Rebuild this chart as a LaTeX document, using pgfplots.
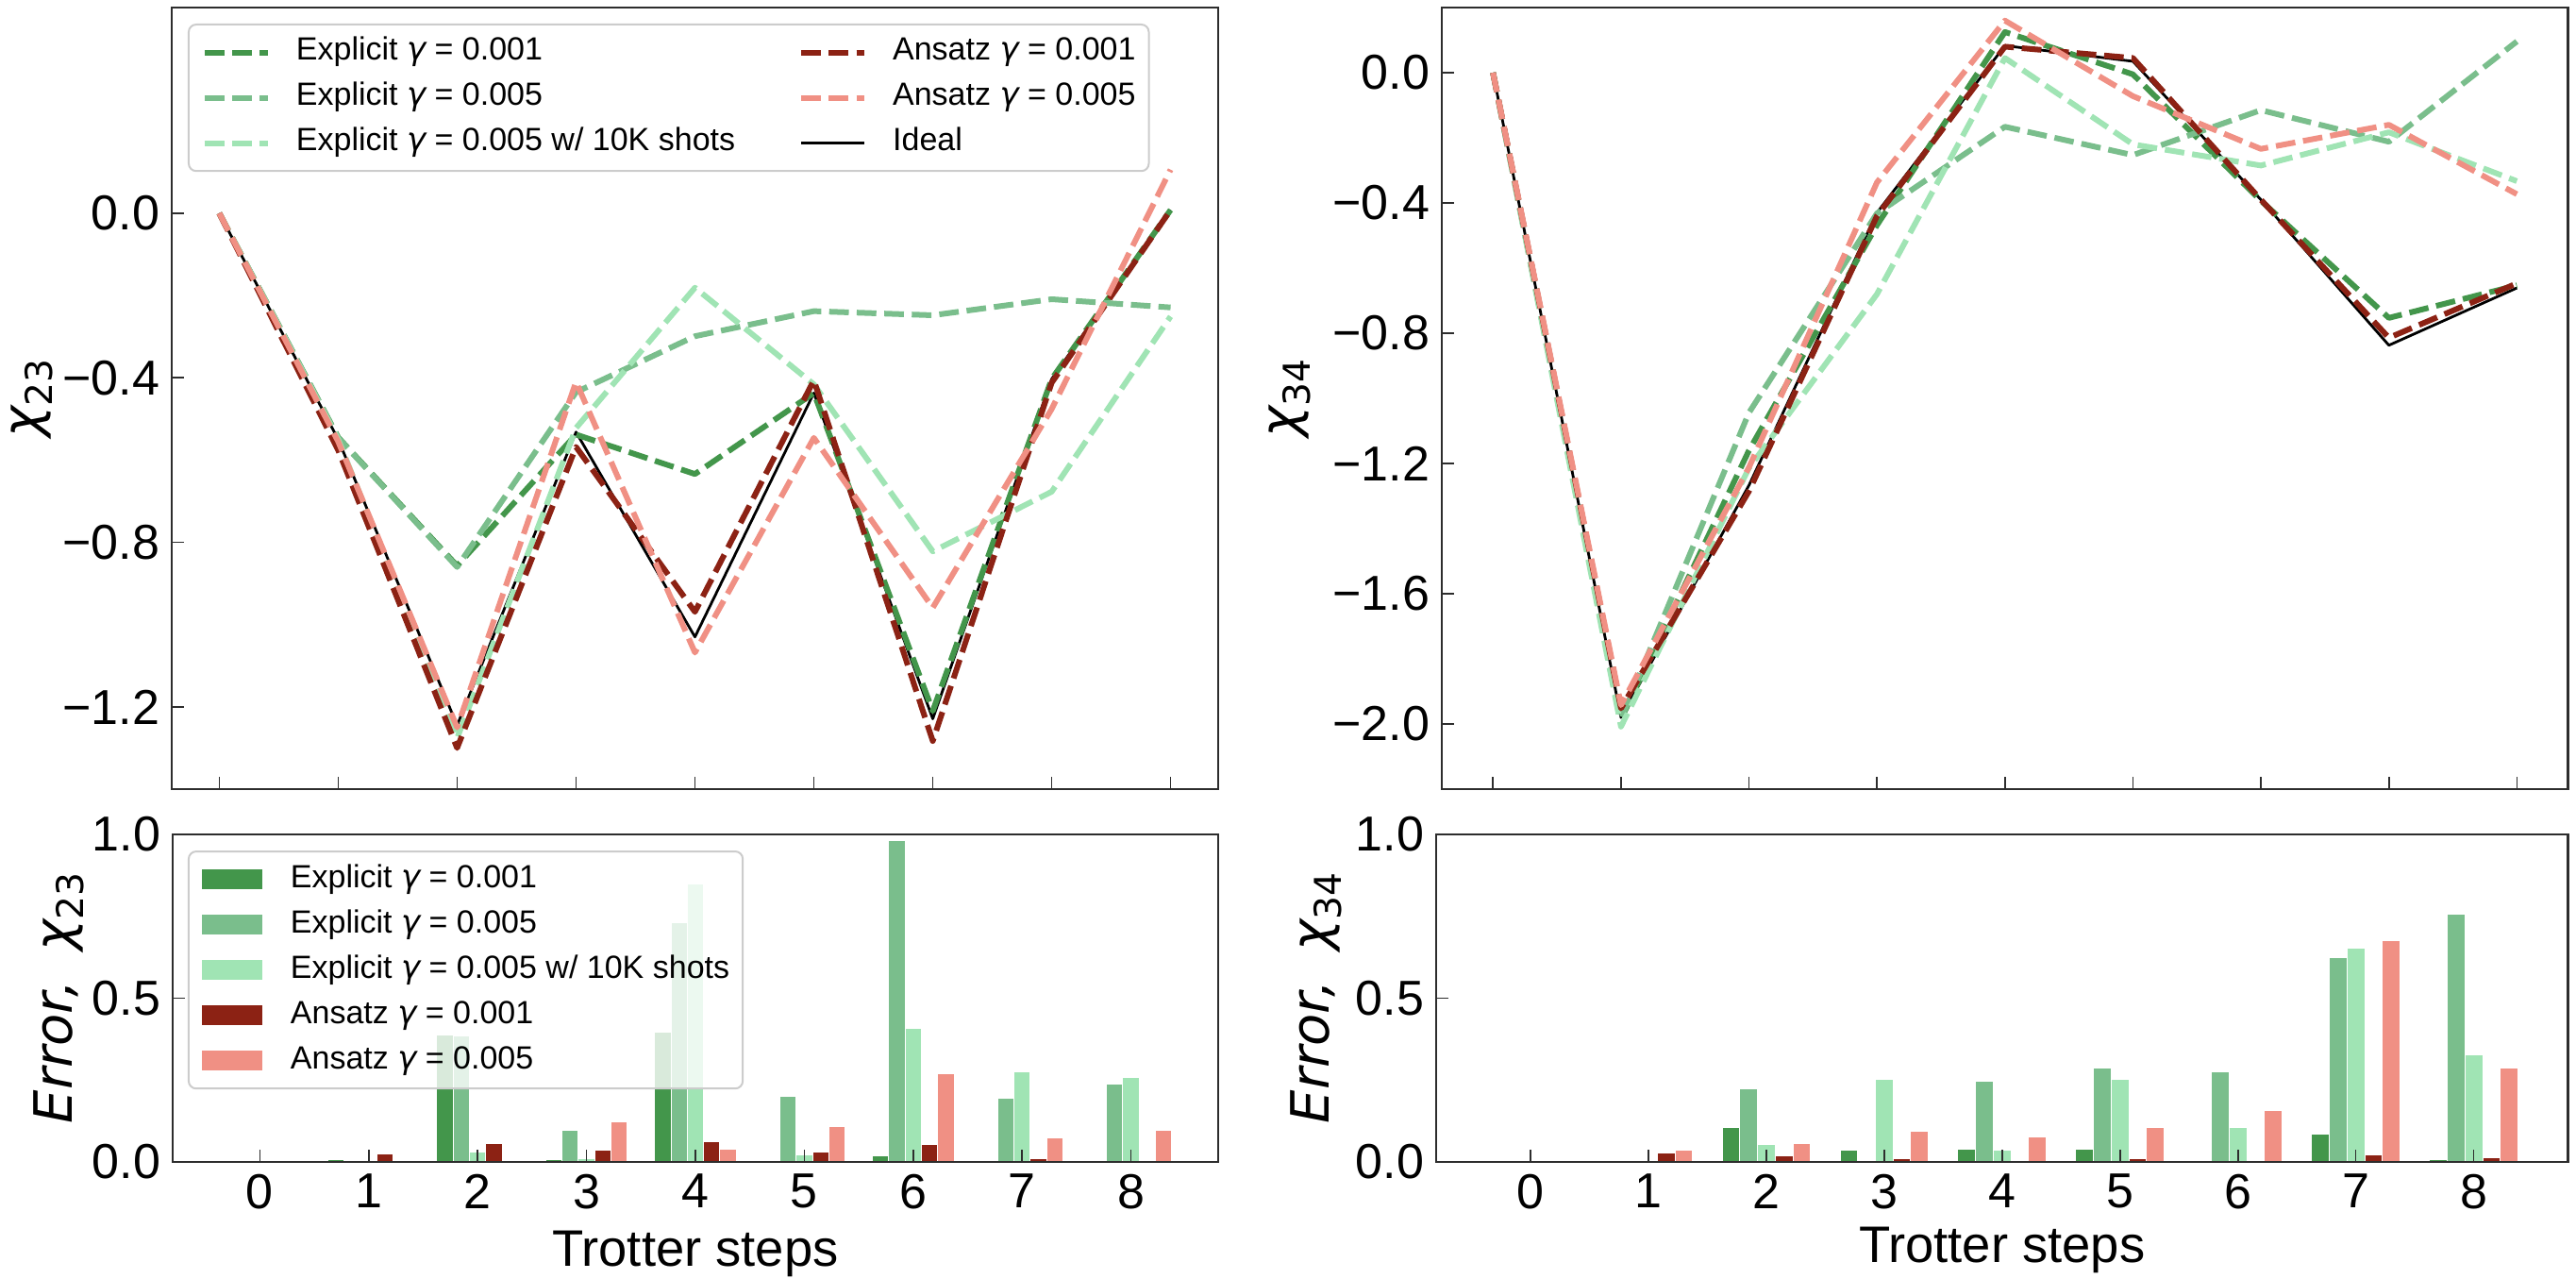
\documentclass[border=0pt]{standalone}
\usepackage{fontspec}
\setmainfont{Liberation Sans}
\newfontfamily\djv{DejaVu Sans}
\newfontfamily\djvi{DejaVu Sans Oblique}
\usepackage{pgfplots}
\pgfplotsset{compat=1.18}

\definecolor{cEa}{RGB}{67,150,75}
\definecolor{cEb}{RGB}{122,190,140}
\definecolor{cEc}{RGB}{160,228,180}
\definecolor{cAa}{RGB}{140,34,20}
\definecolor{cAb}{RGB}{240,144,132}
\definecolor{frame}{RGB}{45,45,45}

\tikzset{
  dl/.style={line width=1.5pt, dash pattern=on 5.2pt off 2.1pt, line join=round},
  ideal/.style={black, line width=0.7pt, solid, line join=round},
  bb/.style={ybar, bar width=0.15, draw=white, line width=0.25pt},
}
\newcommand{\tickfont}{\fontsize{13}{13}\selectfont}
\newcommand{\legfont}{\fontsize{8.5}{8.5}\selectfont}
\newcommand{\labfont}{\fontsize{14}{14}\selectfont}
\newcommand{\g}{{\djvi γ}}
\newcommand{\sub}[1]{\raisebox{-0.22em}{\fontsize{9.8}{9.8}\selectfont\djv #1}}

\pgfplotsset{
  base/.style={
    scale only axis,
    axis on top,
    axis line style={draw=frame, line width=0.6pt},
    tick style={draw=frame, line width=0.4pt},
    tick align=inside,
    tick pos=left,
    major tick length=3.3pt,
    xtick={0,...,8},
    tick label style={font=\tickfont, inner sep=3pt},
    ylabel style={anchor=center, inner sep=0pt, font=\labfont},
    legend cell align=left,
  },
  legbase/.style={
    legend style={
      draw=black!20, line width=0.5pt, rounded corners=2pt,
      fill=white, fill opacity=0.8, text opacity=1,
      font=\legfont,
      inner xsep=3.5pt, inner ysep=3.4pt,
      row sep=4pt,
      nodes={inner sep=0pt, text height=6.1pt, text depth=1.9pt},
    },
  },
}

\begin{document}
\begin{tikzpicture}

% ---------------- top left ----------------
\begin{axis}[base, legbase,
  at={(45.5pt,-2pt)}, anchor=north west,
  width=277.25pt, height=207pt,
  xmin=-0.4, xmax=8.4, xticklabels={},
  ymin=-1.4, ymax=0.5,
  ytick={-1.2,-0.8,-0.4,0}, yticklabels={−1.2,−0.8,−0.4,0.0},
  ylabel={{\djvi χ}\sub{23}},
  ylabel style={at={(axis description cs:-0.1335,0.5)}},
  legend columns=2,
  legend style={at={(axis description cs:0.0153,0.9795)}, anchor=north west,
    /tikz/every odd column/.style={column sep=6.75pt},
    /tikz/every even column/.style={column sep=16.75pt}},
  legend image code/.code={\draw[#1, sharp corners] (0pt,0pt) -- (16.75pt,0pt);},
]
\addlegendimage{dl, cEa}\addlegendentry{Explicit \g\ = 0.001}
\addlegendimage{dl, cAa}\addlegendentry{Ansatz \g\ = 0.001}
\addlegendimage{dl, cEb}\addlegendentry{Explicit \g\ = 0.005}
\addlegendimage{dl, cAb}\addlegendentry{Ansatz \g\ = 0.005}
\addlegendimage{dl, cEc}\addlegendentry{Explicit \g\ = 0.005 w/ 10K shots}
\addlegendimage{ideal}\addlegendentry{Ideal}

\addplot[ideal, forget plot] coordinates {(0,0) (1,-0.55) (2,-1.245) (3,-0.532) (4,-1.03) (5,-0.437) (6,-1.229) (7,-0.403) (8,0.008)};
\addplot[dl, cEa, forget plot] coordinates {(0,0) (1,-0.545) (2,-0.857) (3,-0.538) (4,-0.634) (5,-0.437) (6,-1.21) (7,-0.403) (8,0.008)};
\addplot[dl, cEb, forget plot] coordinates {(0,0) (1,-0.546) (2,-0.86) (3,-0.435) (4,-0.299) (5,-0.238) (6,-0.248) (7,-0.209) (8,-0.229)};
\addplot[dl, cEc, forget plot] coordinates {(0,0) (1,-0.55) (2,-1.276) (3,-0.522) (4,-0.181) (5,-0.416) (6,-0.822) (7,-0.677) (8,-0.251)};
\addplot[dl, cAa, forget plot] coordinates {(0,0) (1,-0.576) (2,-1.30) (3,-0.568) (4,-0.969) (5,-0.406) (6,-1.283) (7,-0.412) (8,0.008)};
\addplot[dl, cAb, forget plot] coordinates {(0,0) (1,-0.555) (2,-1.25) (3,-0.41) (4,-1.068) (5,-0.546) (6,-0.959) (7,-0.476) (8,0.106)};
\end{axis}

% ---------------- top right ----------------
\begin{axis}[base,
  at={(382pt,-2pt)}, anchor=north west,
  width=298.4pt, height=207pt,
  xmin=-0.4, xmax=8.4, xticklabels={},
  ymin=-2.2, ymax=0.2,
  ytick={-2,-1.6,-1.2,-0.8,-0.4,0}, yticklabels={−2.0,−1.6,−1.2,−0.8,−0.4,0.0},
  ylabel={{\djvi χ}\sub{34}},
  ylabel style={at={(axis description cs:-0.135,0.5)}},
]
\addplot[ideal] coordinates {(0,0) (1,-1.98) (2,-1.267) (3,-0.43) (4,0.083) (5,0.035) (6,-0.39) (7,-0.837) (8,-0.661)};
\addplot[dl, cEa] coordinates {(0,0) (1,-1.985) (2,-1.16) (3,-0.468) (4,0.125) (5,-0.005) (6,-0.393) (7,-0.753) (8,-0.653)};
\addplot[dl, cEb] coordinates {(0,0) (1,-1.985) (2,-1.044) (3,-0.432) (4,-0.166) (5,-0.253) (6,-0.115) (7,-0.212) (8,0.096)};
\addplot[dl, cEc] coordinates {(0,0) (1,-2.008) (2,-1.214) (3,-0.68) (4,0.045) (5,-0.22) (6,-0.285) (7,-0.183) (8,-0.333)};
\addplot[dl, cAa] coordinates {(0,0) (1,-1.952) (2,-1.285) (3,-0.44) (4,0.08) (5,0.045) (6,-0.39) (7,-0.814) (8,-0.647)};
\addplot[dl, cAb] coordinates {(0,0) (1,-1.942) (2,-1.212) (3,-0.337) (4,0.16) (5,-0.072) (6,-0.234) (7,-0.16) (8,-0.373)};
\end{axis}

% ---------------- bottom left ----------------
\begin{axis}[base, legbase,
  at={(45.75pt,-221pt)}, anchor=north west,
  width=277pt, height=86.75pt,
  xmin=-0.8, xmax=8.8, xticklabels={0,1,2,3,4,5,6,7,8},
  ymin=0, ymax=1,
  ytick={0,0.5,1}, yticklabels={0.0,0.5,1.0},
  ylabel={{\djvi Error,}\hspace{0.55em}{\djvi χ}\sub{23}},
  ylabel style={at={(axis description cs:-0.109,0.5)}},
  xlabel={Trotter steps},
  xlabel style={at={(axis description cs:0.5,0)}, anchor=north, yshift=-18pt, inner sep=0pt, font=\fontsize{13.6}{13.6}\selectfont},
  legend style={at={(axis description cs:0.0144,0.951)}, anchor=north west,
    /tikz/every odd column/.style={column sep=7.5pt}},
  legend image code/.code={\fill[#1, fill opacity=1, sharp corners] (0pt,-2.625pt) rectangle (16pt,2.625pt);},
]
\addlegendimage{fill=cEa, draw=none}\addlegendentry{Explicit \g\ = 0.001}
\addlegendimage{fill=cEb, draw=none}\addlegendentry{Explicit \g\ = 0.005}
\addlegendimage{fill=cEc, draw=none}\addlegendentry{Explicit \g\ = 0.005 w/ 10K shots}
\addlegendimage{fill=cAa, draw=none}\addlegendentry{Ansatz \g\ = 0.001}
\addlegendimage{fill=cAb, draw=none}\addlegendentry{Ansatz \g\ = 0.005}

\addplot[draw=none, forget plot, error bars/.cd, y dir=plus, y explicit, error mark=none,
  error bar style={black, line width=0.4pt, solid}]
  coordinates {(0,0) +- (0,0.036) (1,0) +- (0,0.036) (3,0) +- (0,0.036) (5,0) +- (0,0.036)};
\addplot[bb, bar shift=-0.3, fill=cEa, forget plot] coordinates {(0,0) (1,0.006) (2,0.388) (3,0.006) (4,0.396) (5,0) (6,0.019) (7,0) (8,0)};
\addplot[bb, bar shift=-0.15, fill=cEb, forget plot] coordinates {(0,0) (1,0.004) (2,0.385) (3,0.097) (4,0.731) (5,0.199) (6,0.981) (7,0.194) (8,0.237)};
\addplot[bb, bar shift=0, fill=cEc, forget plot] coordinates {(0,0) (1,0) (2,0.031) (3,0.01) (4,0.849) (5,0.021) (6,0.407) (7,0.274) (8,0.259)};
\addplot[bb, bar shift=0.15, fill=cAa, forget plot] coordinates {(0,0) (1,0.026) (2,0.055) (3,0.036) (4,0.061) (5,0.031) (6,0.054) (7,0.009) (8,0)};
\addplot[bb, bar shift=0.3, fill=cAb, forget plot] coordinates {(0,0) (1,0.005) (2,0.005) (3,0.122) (4,0.038) (5,0.109) (6,0.27) (7,0.073) (8,0.098)};
\end{axis}

% ---------------- bottom right ----------------
\begin{axis}[base,
  at={(380.5pt,-221pt)}, anchor=north west,
  width=299.9pt, height=86.75pt,
  xmin=-0.8, xmax=8.8, xticklabels={0,1,2,3,4,5,6,7,8},
  ymin=0, ymax=1,
  ytick={0,0.5,1}, yticklabels={0.0,0.5,1.0},
  ylabel={{\djvi Error,}\hspace{0.55em}{\djvi χ}\sub{34}},
  ylabel style={at={(axis description cs:-0.106,0.5)}},
  xlabel={Trotter steps},
  xlabel style={at={(axis description cs:0.5,0)}, anchor=north, yshift=-17pt, inner sep=0pt, font=\fontsize{13.6}{13.6}\selectfont},
]
\addplot[draw=none, forget plot, error bars/.cd, y dir=plus, y explicit, error mark=none,
  error bar style={black, line width=0.4pt, solid}]
  coordinates {(0,0) +- (0,0.036) (1,0) +- (0,0.036)};
\addplot[bb, bar shift=-0.3, fill=cEa] coordinates {(0,0) (1,0.005) (2,0.105) (3,0.0375) (4,0.039) (5,0.038) (6,0.002) (7,0.084) (8,0.008)};
\addplot[bb, bar shift=-0.15, fill=cEb] coordinates {(0,0) (1,0.004) (2,0.223) (3,0.002) (4,0.247) (5,0.288) (6,0.276) (7,0.625) (8,0.757)};
\addplot[bb, bar shift=0, fill=cEc] coordinates {(0,0) (1,0) (2,0.053) (3,0.252) (4,0.0375) (5,0.252) (6,0.106) (7,0.654) (8,0.328)};
\addplot[bb, bar shift=0.15, fill=cAa] coordinates {(0,0) (1,0.028) (2,0.018) (3,0.01) (4,0.003) (5,0.01) (6,0) (7,0.023) (8,0.0135)};
\addplot[bb, bar shift=0.3, fill=cAb] coordinates {(0,0) (1,0.0375) (2,0.055) (3,0.093) (4,0.076) (5,0.106) (6,0.156) (7,0.677) (8,0.288)};
\end{axis}

\pgfresetboundingbox
\path[use as bounding box] (0pt,0pt) rectangle (682.5pt,-338.5pt);
\end{tikzpicture}
\end{document}
